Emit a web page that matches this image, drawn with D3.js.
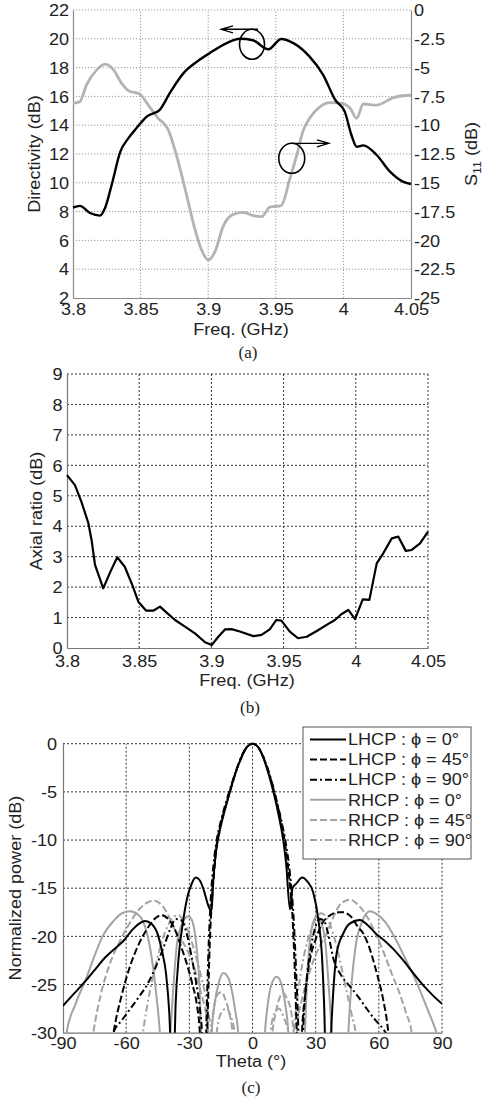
<!DOCTYPE html>
<html><head><meta charset="utf-8">
<script src="https://cdn.jsdelivr.net/npm/d3@7"></script>
<style>
body{margin:0;background:#fff}
svg{display:block}
</style>
</head><body>
<svg id="chart" width="482" height="1101"></svg>
<script>
// ---------------- DATA ----------------
// (a) Directivity vs frequency
const dirFreq = [3.8,3.805,3.8126,3.82,3.8237,3.8286,3.835,3.841,3.847,3.8545,3.864,3.872,3.8816,3.8915,3.901,3.9137,3.9235,3.933,3.9445,3.954,3.963,3.975,3.985,3.994,4.001,4.006,4.0098,4.0147,4.0246,4.0345,4.044,4.05];
const directivity = [8.27,8.4,7.9,7.72,8.25,9.85,12.16,13.1,13.8,14.6,15.05,16.3,17.6,18.4,19.0,19.7,20.0,19.9,19.27,19.99,19.7,18.76,17.5,15.75,14.94,13.3,12.5,12.6,11.93,10.77,10.08,9.92];
// (a) S11 vs frequency
const s11Freq = [3.8,3.805,3.81,3.8175,3.8237,3.83,3.836,3.841,3.8496,3.8557,3.863,3.8705,3.8765,3.884,3.89,3.895,3.9,3.905,3.911,3.9185,3.926,3.933,3.9395,3.9457,3.954,3.9605,3.9655,3.97,3.975,3.9826,3.99,3.9987,4.005,4.0098,4.0147,4.0246,4.037,4.05];
const s11 = [-8.1,-7.96,-6.5,-5.2,-4.69,-5.2,-6.37,-7.0,-7.32,-8.25,-9.4,-10.4,-12.6,-16.06,-18.95,-20.8,-21.7,-20.98,-18.8,-17.74,-17.56,-17.85,-17.94,-17.1,-16.98,-14.6,-12.6,-10.56,-9.4,-8.4,-8.04,-8.1,-8.53,-9.4,-8.16,-8.25,-7.6,-7.38];
// (b) Axial ratio vs frequency
const arFreq = [3.8,3.8055,3.81,3.8148,3.817,3.8194,3.8251,3.83,3.8348,3.84,3.8448,3.8494,3.8547,3.86,3.8644,3.869,3.8748,3.8817,3.8886,3.8956,3.9002,3.9048,3.9094,3.914,3.9197,3.929,3.9347,3.9404,3.945,3.9485,3.9543,3.96,3.966,3.973,3.9798,3.9855,3.99,3.9948,3.9995,4.0048,4.0094,4.0145,4.019,4.0249,4.0294,4.0346,4.0387,4.0445,4.05];
const axialRatio = [5.68,5.35,4.8,4.1,3.55,2.73,1.96,2.5,2.98,2.67,2.12,1.52,1.23,1.23,1.36,1.16,0.92,0.70,0.48,0.19,0.10,0.37,0.61,0.62,0.54,0.39,0.43,0.61,0.92,0.9,0.54,0.32,0.37,0.56,0.76,0.92,1.11,1.25,0.95,1.6,1.58,2.78,3.11,3.6,3.66,3.19,3.22,3.44,3.82];
// (c) Normalized radiation patterns (theta in degrees, power in dB)
const lhcp0Theta = [-90,-85,-80,-75,-70,-65,-61,-57,-54,-51,-48,-45,-43,-41,-39.5,-38.3,-37.5,-36.5,-35,-33,-31,-29,-27,-25,-23,-21,-19.5,-18.7,-17.5,-16,-14,-12,-10.5,-8,-5,-2.5,0,2.5,5,8,10.5,12.5,14.6,16,17.8,19,20.9,23.6,26,28.9,31.3,32.9,34,35,36.5,37.6,40,43.1,46,51,55,59,63,66.8,72,76.3,82,86,90];
const lhcp0Db = [-27.2,-26,-24.8,-23.5,-22.2,-21.2,-20.4,-19.3,-18.7,-18.4,-18.7,-19.8,-21.5,-24,-28,-34,-34,-27,-22,-18.5,-16,-14.6,-13.9,-14.2,-15.3,-16.8,-17.4,-14.5,-11.5,-9.5,-7.6,-6,-4.8,-3,-1.3,-0.3,0,-0.3,-1.4,-3.4,-5.5,-7.5,-10,-12.5,-17.2,-15,-14.5,-13.9,-14.3,-15.5,-18.3,-21.7,-27,-34,-34,-28.7,-21.7,-19.7,-18.7,-18.3,-18.9,-19.8,-20.5,-21.3,-22.6,-23.8,-25.3,-26.2,-27];
const lhcp45Theta = [-68,-66,-62,-58,-54,-50,-46,-43,-40,-37,-34,-31,-28.5,-26.5,-25,-24,-22.5,-21.5,-20.5,-19.5,-18.3,-17,-15,-12.5,-10.5,-8,-5,-2.5,0,2.5,5,8,11,13.5,15.5,17.5,19,20,21,21.7,22.7,23.5,25,27.3,30,33,37,41,43.1,47,50,52.6,56,59,62,64.5,66];
const lhcp45Db = [-33,-30,-26,-23,-20.8,-19.2,-18.1,-17.8,-18.2,-19.2,-21,-23,-25,-27,-30,-35,-35,-30,-22,-17,-13.5,-10.5,-8.3,-6.3,-4.8,-3,-1.3,-0.3,0,-0.3,-1.3,-3.2,-5.6,-8,-10.5,-14,-18,-23,-30,-35,-35,-30,-26,-22.4,-20.3,-18.7,-17.8,-17.5,-17.5,-18,-19,-19.7,-21.5,-23.8,-26.5,-30,-34];
const lhcp90Theta = [-68,-66,-62,-58,-54,-50,-46,-42,-39,-36.5,-34,-31.5,-29,-27,-25,-24,-23.3,-22.5,-22,-21,-19.8,-18.5,-17,-15,-12.5,-10.5,-8,-5,-2.5,0,2.5,5,8,11,13.5,15.8,17.8,19.5,20.8,21.8,22.3,23.3,24,25.5,27.5,29.5,32,34,36,38.4,42,46.3,50,54.2,58,62,66];
const lhcp90Db = [-33,-30,-28.7,-27.5,-26.3,-25,-23.2,-21,-19.2,-18.2,-18.3,-19.5,-22,-24.5,-27.5,-30,-35,-35,-30,-22,-16,-12.5,-10,-8,-6,-4.6,-2.9,-1.2,-0.3,0,-0.3,-1.3,-3.1,-5.5,-7.8,-10.3,-13.5,-18,-24,-30,-35,-35,-30,-25,-21.5,-19.3,-18.2,-18.4,-19.8,-22.3,-24,-25.2,-26.2,-27.5,-28.6,-29.6,-31];
const rhcp0Theta = [-90,-88.3,-84,-78.7,-75,-71.2,-66,-62,-58.2,-54,-51,-48.7,-45.6,-44,-43,-40,-39,-37.5,-36,-34,-32,-30.5,-29,-27.5,-26,-25,-24.5,-23.5,-20.5,-19.4,-18,-16,-13.9,-11.5,-9.5,-8,-6.8,-6,0,5,5.9,7,9,11.5,13.5,15.5,17,18,24,24.9,25.8,27,28.5,30.5,32.5,34.5,36,37.6,38.5,44.5,45.5,47,49,52,55.8,59,63,68,73,78,83,87.4,90];
const rhcp0Db = [-33,-30,-27,-24.2,-22,-20,-18.4,-17.6,-17.4,-17.8,-19,-21.1,-26.2,-30,-34,-34,-30,-25,-21,-19,-18.1,-17.9,-18.2,-19.5,-22.5,-26,-30,-36,-36,-30,-27,-24.8,-23.8,-24.3,-26,-28,-30,-34,-40,-34,-30,-27.5,-25,-24.2,-24.8,-27,-30,-36,-36,-30,-25,-21,-18.8,-17.9,-18.5,-20.5,-24.5,-30,-34,-34,-30,-25,-21,-18.5,-17.4,-17.7,-18.5,-20.3,-22.5,-24.8,-27.5,-30,-32];
const rhcp45Theta = [-78,-75.6,-72,-68,-63,-58,-53,-49,-46.5,-43,-40,-37.6,-34,-31.3,-28,-25.5,-23.3,-22,-21,-20.3,-19.5,-18,-16,-14.5,-13,-11,-9.5,-8.5,0,8.5,9.5,11,13,14.6,16.5,18.5,19.5,20.3,21,22,23.5,26,29,32,35,38,42,46.3,50,54,58,62,66,70,73,75.6,77];
const rhcp45Db = [-34,-30,-26,-23,-20.5,-18.5,-17,-16.4,-16.3,-16.8,-17.8,-19,-20.3,-21.3,-23,-25,-26.8,-28,-30,-33,-30,-27,-25.9,-25.8,-26.5,-28,-30,-35,-42,-35,-30,-28,-26.3,-25.9,-26.5,-28,-30,-33,-30,-28,-26.5,-24.5,-22.5,-21,-19.8,-18.2,-16.6,-16.2,-16.7,-17.8,-19.5,-21.5,-23.8,-26,-28,-30,-33];
const rhcp90Theta = [-54,-52,-49,-46,-43,-40,-37,-35,-33,-30,-27,-24,-22,-20.5,-19.5,-18.3,-17,-15,-12.5,-10,-8.5,-7.5,0,7.5,8.5,10.5,12.5,15,17,18.2,19.5,21.5,24,27,30,32.8,35,38,41,44,47,49,51];
const rhcp90Db = [-34,-30,-26,-23,-20.5,-18.8,-17.9,-17.8,-18.3,-19.8,-22,-24.5,-26.5,-28.5,-30,-33,-30,-28,-27.5,-28.5,-30,-35,-42,-35,-30,-28,-27.5,-28.5,-30,-33,-30,-26,-22.5,-19.8,-18.2,-17.6,-18,-19.5,-22,-25,-28,-30,-34];
// tick labels
const freqTicks = [3.8,3.85,3.9,3.95,4,4.05];
const dirTicks = [2,4,6,8,10,12,14,16,18,20,22];
const s11Ticks = [-25,-22.5,-20,-17.5,-15,-12.5,-10,-7.5,-5,-2.5,0];
const arTicks = [0,1,2,3,4,5,6,7,8,9];
const thetaTicks = [-90,-60,-30,0,30,60,90];
const powerTicks = [-30,-25,-20,-15,-10,-5,0];
const legendLabels = ["LHCP : \u03D5 = 0\u00B0","LHCP : \u03D5 = 45\u00B0","LHCP : \u03D5 = 90\u00B0","RHCP : \u03D5 = 0\u00B0","RHCP : \u03D5 = 45\u00B0","RHCP : \u03D5 = 90\u00B0"];

// ---------------- DRAWING ----------------
const FONT = '"Liberation Sans", Arial, Helvetica, sans-serif';
const SERIF = '"Liberation Serif", "Times New Roman", serif';
const SX = 1.13, FS = 16, TXT = '#222';
const svg = d3.select('#chart');
const fmt = d => String(d);

function styleAxis(g, kind, off, domColor){
  g.attr('font-size', FS).attr('font-family', FONT);
  g.select('.domain').attr('stroke', domColor).attr('stroke-width', 1.2);
  g.selectAll('.tick line').remove();
  const t = g.selectAll('.tick text').attr('fill', TXT).attr('transform', `scale(${SX},1)`);
  if (kind === 'b') t.attr('dy', null).attr('y', off).attr('x', 0);
  else t.attr('dy', '0.36em').attr('x', off / SX);
}
function label(txt, x, y, rot, opts={}){
  const t = svg.append('text')
    .attr('transform', `translate(${x},${y}) rotate(${rot}) scale(${opts.sx||SX},1)`)
    .attr('text-anchor', 'middle').attr('font-size', opts.fs||FS)
    .attr('font-family', opts.font||FONT).attr('fill', TXT).text(txt);
  return t;
}
function grid(g, x, y, xt, yt, color, dash){
  g.append('g').selectAll('line').data(xt).join('line')
    .attr('x1', d=>x(d)).attr('x2', d=>x(d)).attr('y1', y.range()[0]).attr('y2', y.range()[1])
    .attr('stroke', color).attr('stroke-width', 1).attr('stroke-dasharray', dash);
  g.append('g').selectAll('line').data(yt).join('line')
    .attr('y1', d=>y(d)).attr('y2', d=>y(d)).attr('x1', x.range()[0]).attr('x2', x.range()[1])
    .attr('stroke', color).attr('stroke-width', 1).attr('stroke-dasharray', dash);
}

// ===== Panel (a) =====
{
  const g = svg.append('g');
  const x = d3.scaleLinear().domain([3.8, 4.05]).range([73, 411]);
  const yL = d3.scaleLinear().domain([2, 22]).range([298, 10]);
  const yR = d3.scaleLinear().domain([-25, 0]).range([298, 10]);
  grid(g, x, yL, freqTicks.slice(1, -1), dirTicks.slice(1), '#9a9a9a', '1.2,1.8');
  const ax = '#8a8a8a';
  g.append('g').attr('transform', 'translate(0,298)')
    .call(d3.axisBottom(x).tickValues(freqTicks).tickFormat(fmt).tickSize(0).tickSizeOuter(0))
    .call(s => styleAxis(s, 'b', 17, ax));
  g.append('g').attr('transform', 'translate(73,0)')
    .call(d3.axisLeft(yL).tickValues(dirTicks).tickFormat(fmt).tickSize(0).tickSizeOuter(0))
    .call(s => styleAxis(s, 'l', -4, ax));
  const gr = g.append('g').attr('transform', 'translate(411,0)')
    .call(d3.axisRight(yR).tickValues(s11Ticks).tickFormat(fmt).tickSize(0).tickSizeOuter(0));
  styleAxis(gr, 'r', 3, ax);
  gr.selectAll('.tick text').attr('text-anchor', 'start');

  const lineS = d3.line().x((d,i)=>x(s11Freq[i])).y(d=>yR(d)).curve(d3.curveMonotoneX);
  g.append('path').attr('d', lineS(s11)).attr('fill', 'none').attr('stroke', '#b3b3b3').attr('stroke-width', 2.8).attr('stroke-linejoin','round');
  const lineD = d3.line().x((d,i)=>x(dirFreq[i])).y(d=>yL(d)).curve(d3.curveMonotoneX);
  g.append('path').attr('d', lineD(directivity)).attr('fill', 'none').attr('stroke', '#000').attr('stroke-width', 2.4).attr('stroke-linejoin','round');

  // annotations (positioned in data units)
  const c1 = {f: 3.9324, v: 19.62}, c2 = {f: 3.9618, v: 11.7};
  g.append('ellipse').attr('cx', x(c1.f)).attr('cy', yL(c1.v)).attr('rx', 12.5).attr('ry', 15)
    .attr('fill', 'none').attr('stroke', '#000').attr('stroke-width', 1.6);
  g.append('ellipse').attr('cx', x(c2.f)).attr('cy', yL(c2.v)).attr('rx', 13).attr('ry', 15)
    .attr('fill', 'none').attr('stroke', '#000').attr('stroke-width', 1.6);
  const a1y = yL(c1.v) - 15, a1x0 = x(c1.f) + 6, a1x1 = x(3.9095);
  g.append('path').attr('d', `M${a1x0},${a1y}L${a1x1},${a1y}M${a1x1+12},${a1y-3.5}L${a1x1},${a1y}L${a1x1+12},${a1y+3.5}`)
    .attr('fill', 'none').attr('stroke', '#000').attr('stroke-width', 1.3);
  const a2y = yL(c2.v) - 15, a2x0 = x(c2.f), a2x1 = x(3.9893);
  g.append('path').attr('d', `M${a2x0},${a2y}L${a2x1},${a2y}M${a2x1-12},${a2y-3.5}L${a2x1},${a2y}L${a2x1-12},${a2y+3.5}`)
    .attr('fill', 'none').attr('stroke', '#000').attr('stroke-width', 1.3);

  label('Freq. (GHz)', 241, 335, 0);
  label('Directivity (dB)', 40, 154, -90);
  const s = svg.append('text').attr('transform', `translate(477,154) rotate(-90) scale(${SX},1)`)
    .attr('text-anchor', 'middle').attr('font-size', FS).attr('font-family', FONT).attr('fill', TXT);
  s.append('tspan').text('S');
  s.append('tspan').attr('font-size', 11).attr('dy', 4).text('11');
  s.append('tspan').attr('dy', -4).text(' (dB)');
  label('(a)', 248, 358, 0, {font: SERIF, fs: 17, sx: 1});
}

// ===== Panel (b) =====
{
  const g = svg.append('g');
  const x = d3.scaleLinear().domain([3.8, 4.05]).range([67, 428]);
  const y = d3.scaleLinear().domain([0, 9]).range([648, 374]);
  grid(g, x, y, freqTicks.slice(1), arTicks.slice(1), '#333', '2,2');
  const ax = '#777';
  g.append('g').attr('transform', 'translate(0,648)')
    .call(d3.axisBottom(x).tickValues(freqTicks).tickFormat(fmt).tickSize(0).tickSizeOuter(0))
    .call(s => styleAxis(s, 'b', 19, ax));
  g.append('g').attr('transform', 'translate(67,0)')
    .call(d3.axisLeft(y).tickValues(arTicks).tickFormat(fmt).tickSize(0).tickSizeOuter(0))
    .call(s => styleAxis(s, 'l', -4.5, ax));
  const line = d3.line().x((d,i)=>x(arFreq[i])).y(d=>y(d));
  g.append('path').attr('d', line(axialRatio)).attr('fill', 'none').attr('stroke', '#000').attr('stroke-width', 2.2).attr('stroke-linejoin','round');
  label('Freq. (GHz)', 247, 686, 0);
  label('Axial ratio (dB)', 42, 511, -90);
  label('(b)', 250, 713, 0, {font: SERIF, fs: 17, sx: 1});
}

// ===== Panel (c) =====
{
  const g = svg.append('g');
  const x = d3.scaleLinear().domain([-90, 90]).range([63, 442]);
  const y = d3.scaleLinear().domain([-30, 0]).range([1032.7, 743.7]);
  grid(g, x, y, thetaTicks.slice(1), powerTicks.slice(1), '#333', '2,2');
  const ax = '#777';
  g.append('g').attr('transform', 'translate(0,1032.7)')
    .call(d3.axisBottom(x).tickValues(thetaTicks).tickFormat(fmt).tickSize(0).tickSizeOuter(0))
    .call(s => styleAxis(s, 'b', 16.5, ax));
  g.append('g').attr('transform', 'translate(63,0)')
    .call(d3.axisLeft(y).tickValues(powerTicks).tickFormat(fmt).tickSize(0).tickSizeOuter(0))
    .call(s => styleAxis(s, 'l', -6, ax));

  svg.append('clipPath').attr('id', 'clipC').append('rect')
    .attr('x', 63).attr('y', 740).attr('width', 379).attr('height', 1032.7 - 740);
  const curves = [
    {th: rhcp0Theta, db: rhcp0Db, color: '#a3a3a3', dash: null},
    {th: rhcp45Theta, db: rhcp45Db, color: '#a3a3a3', dash: '7,3'},
    {th: rhcp90Theta, db: rhcp90Db, color: '#a3a3a3', dash: '7,3,2,3'},
    {th: lhcp0Theta, db: lhcp0Db, color: '#000', dash: null},
    {th: lhcp45Theta, db: lhcp45Db, color: '#000', dash: '7,3'},
    {th: lhcp90Theta, db: lhcp90Db, color: '#000', dash: '7,3,2,3'}
  ];
  const pg = g.append('g').attr('clip-path', 'url(#clipC)');
  curves.forEach(c => {
    const line = d3.line().x((d,i)=>x(c.th[i])).y(d=>y(d)).curve(d3.curveMonotoneX);
    pg.append('path').attr('d', line(c.db)).attr('fill', 'none').attr('stroke', c.color)
      .attr('stroke-width', 2).attr('stroke-dasharray', c.dash);
  });

  // legend
  const styles = [curves[3], curves[4], curves[5], curves[0], curves[1], curves[2]];
  const lg = g.append('g');
  lg.append('rect').attr('x', 303).attr('y', 727).attr('width', 168).attr('height', 132)
    .attr('fill', '#fff').attr('stroke', '#555').attr('stroke-width', 1);
  legendLabels.forEach((t, i) => {
    const yy = 739.5 + i * 20.1;
    lg.append('line').attr('x1', 310).attr('x2', 346).attr('y1', yy).attr('y2', yy)
      .attr('stroke', styles[i].color).attr('stroke-width', 2).attr('stroke-dasharray', styles[i].dash);
    lg.append('text').attr('transform', `translate(348,${yy}) scale(${SX},1)`).attr('dy', '0.36em')
      .attr('font-size', FS).attr('font-family', FONT).attr('fill', TXT).text(t);
  });

  label('Theta (\u00B0)', 251, 1067, 0);
  label('Normalized power (dB)', 21, 888, -90);
  label('(c)', 251, 1093, 0, {font: SERIF, fs: 17, sx: 1});
}
</script>
</body></html>
